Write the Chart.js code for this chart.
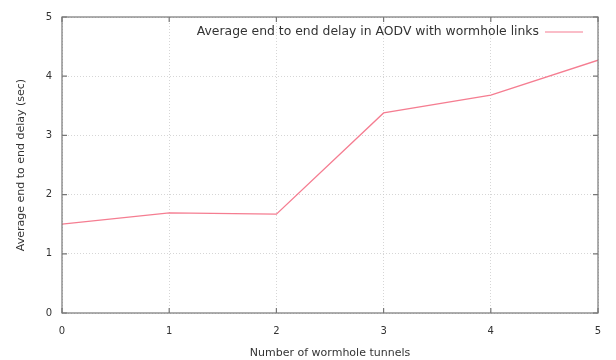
<!DOCTYPE html>
<html><head><meta charset="utf-8">
<script src="https://cdn.jsdelivr.net/npm/chart.js@4.4.0/dist/chart.umd.min.js"></script>
<style>html,body{margin:0;padding:0;background:#fff}#wrap{width:616px;height:360px;position:relative}</style>
</head><body><div id="wrap"><canvas id="c" width="616" height="360"></canvas></div>
<script>
const tunnels = [0, 1, 2, 3, 4, 5];
const delays = [1.5, 1.69, 1.67, 3.38, 3.68, 4.27];
const seriesLabel = 'Average end to end delay in AODV with wormhole links';
const xTitle = 'Number of wormhole tunnels';
const yTitle = 'Average end to end delay (sec)';
const LINE = 'rgb(245,125,145)';
const FONT = '"DejaVu Sans", sans-serif';

const framePlugin = {
  id: 'frame',
  afterDatasetsDraw(chart) {
    const {ctx, chartArea: a, scales} = chart;
    ctx.save();
    ctx.strokeStyle = '#777';
    ctx.lineWidth = 1.2;
    ctx.strokeRect(a.left, a.top, a.right - a.left, a.bottom - a.top);
    ctx.beginPath();
    scales.x.ticks.forEach(t => {
      const px = scales.x.getPixelForValue(t.value);
      ctx.moveTo(px, a.bottom); ctx.lineTo(px, a.bottom - 5);
      ctx.moveTo(px, a.top); ctx.lineTo(px, a.top + 5);
    });
    scales.y.ticks.forEach(t => {
      const py = scales.y.getPixelForValue(t.value);
      ctx.moveTo(a.left, py); ctx.lineTo(a.left + 5, py);
      ctx.moveTo(a.right, py); ctx.lineTo(a.right - 5, py);
    });
    ctx.stroke();
    // legend
    ctx.font = '12.4px ' + FONT;
    ctx.fillStyle = '#333';
    ctx.textAlign = 'right';
    ctx.textBaseline = 'middle';
    const ly = a.top + 15;
    ctx.fillText(seriesLabel, a.right - 59, ly);
    ctx.strokeStyle = LINE;
    ctx.lineWidth = 1.2;
    ctx.beginPath();
    ctx.moveTo(a.right - 53, ly); ctx.lineTo(a.right - 15, ly);
    ctx.stroke();
    ctx.restore();
  }
};

new Chart(document.getElementById('c'), {
  type: 'line',
  data: {
    datasets: [{
      label: seriesLabel,
      data: tunnels.map((x, i) => ({x, y: delays[i]})),
      borderColor: LINE,
      borderWidth: 1.3,
      pointRadius: 0,
      tension: 0,
      fill: false
    }]
  },
  options: {
    responsive: false,
    animation: false,
    layout: {padding: {top: 17, right: 18, left: 0, bottom: 0}},
    plugins: {legend: {display: false}, tooltip: {enabled: false}},
    scales: {
      x: {
        type: 'linear', min: 0, max: 5,
        ticks: {stepSize: 1, color: '#333', font: {family: FONT, size: 10}, padding: 12},
        grid: {color: '#ccc', lineWidth: 0.8, drawTicks: false, tickLength: 0},
        border: {display: false, dash: [1, 2]},
        title: {display: true, text: xTitle, color: '#333', font: {family: FONT, size: 11}, padding: {top: 4, bottom: 0}},
        afterFit(s) { s.height = 47; }
      },
      y: {
        min: 0, max: 5,
        ticks: {stepSize: 1, color: '#333', font: {family: FONT, size: 10}, padding: 10},
        grid: {color: '#ccc', lineWidth: 0.8, drawTicks: false, tickLength: 0},
        border: {display: false, dash: [1, 2]},
        title: {display: true, text: yTitle, color: '#333', font: {family: FONT, size: 11}, padding: {top: 15, bottom: 8}},
        afterFit(s) { s.width = 62; }
      }
    }
  },
  plugins: [framePlugin]
});
</script></body></html>
